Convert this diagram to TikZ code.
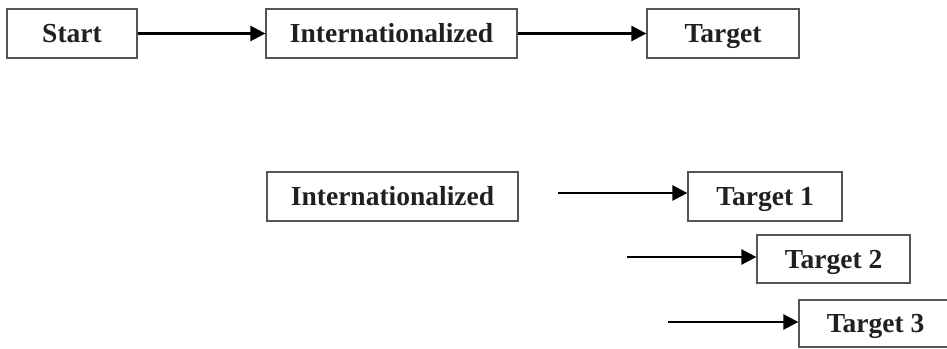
\documentclass[tikz,border=0pt]{standalone}
\usepackage{fontspec}
\setmainfont{Liberation Serif}
\usetikzlibrary{arrows.meta}
\definecolor{boxline}{HTML}{555555}
\definecolor{txt}{HTML}{231F20}
\begin{document}
\begin{tikzpicture}[x=1pt,y=-1pt,
  box/.style={draw=boxline, line width=1.3pt, rectangle, minimum height=49pt, inner sep=0pt,
    text height=18.5pt, text depth=0pt,
    font=\fontsize{27.5}{30}\selectfont\bfseries, text=txt},
  conn/.style={line width=2.6pt, -{Triangle[length=15pt,width=15pt]}}]
\useasboundingbox (0,0) rectangle (947,348);
\node[box, minimum width=130pt] (start) at (72,33.5) {Start};
\node[box, minimum width=251pt] (intl) at (391.5,33.5) {Internationalized};
\node[box, minimum width=152pt] (target) at (723,33.5) {Target};
\draw[conn] (start) -- (intl);
\draw[conn] (intl) -- (target);

\node[box, minimum width=251pt] (intlb) at (392.5,196.5) {Internationalized};
\node[box, minimum width=154pt] (t1) at (765,196.5) {Target 1};
\node[box, minimum width=153pt, minimum height=48pt] (t2) at (833.5,259) {Target 2};
\node[box, minimum width=153pt, minimum height=47pt] (t3) at (875.5,323.5) {Target 3};
\coordinate (c1) at (558,193);
\coordinate (c2) at (627,257);
\coordinate (c3) at (668,322);
\draw[conn] (c1) -- (c1 -| t1.west);
\draw[conn] (c2) -- (c2 -| t2.west);
\draw[conn] (c3) -- (c3 -| t3.west);
\end{tikzpicture}
\end{document}
